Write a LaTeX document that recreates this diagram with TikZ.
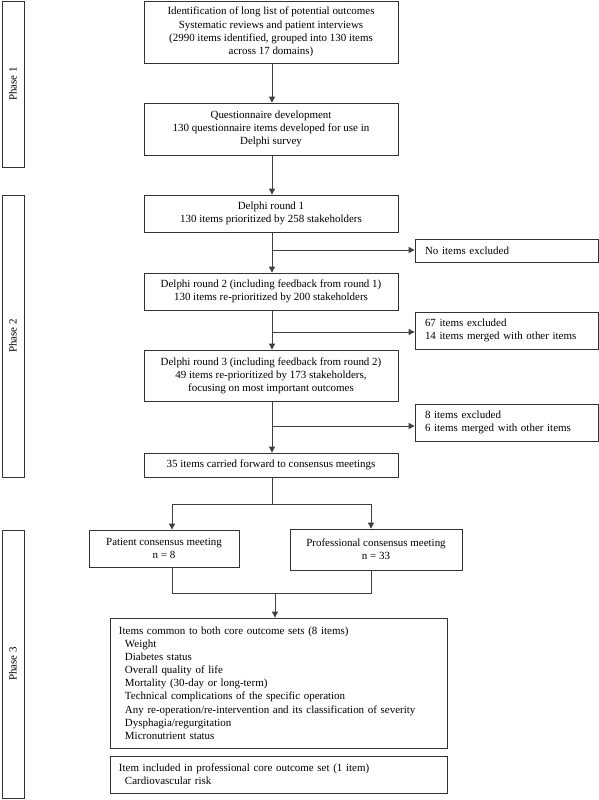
\documentclass[tikz,border=0pt]{standalone}
\usepackage{fontspec}
\setmainfont{Liberation Serif}
\usetikzlibrary{arrows.meta,calc}
\begin{document}
\begin{tikzpicture}[x=1bp,y=-1bp,
  txt/.style={font=\fontsize{11}{13.2}\selectfont},
  box/.style={txt, draw=black!80, line width=0.8bp, inner sep=0pt, align=center},
  lbox/.style={box, align=left, inner xsep=10bp},
  phase/.style={draw=black!80, line width=0.8bp, inner sep=0pt, minimum width=22bp},
  ln/.style={draw=black!75, line width=0.9bp},
  arr/.style={ln, -{Triangle[width=6bp,length=6bp]}}]
\useasboundingbox (0,0) rectangle (599,800);
% phase boxes
\node[phase, minimum height=166bp] (p1) at (13,84) {};
\node[txt, rotate=90] (p1t) at (p1.center) {Phase 1};
\node[phase, minimum height=282bp] (p2) at (13,336) {};
\node[txt, rotate=90] (p2t) at (p2.center) {Phase 2};
\node[phase, minimum height=268bp] (p3) at (13,664) {};
\node[txt, rotate=90] (p3t) at (p3.center) {Phase 3};
% main boxes
\node[box, minimum width=254bp, minimum height=62bp] (b1) at (271,32)
  {Identification of long list of potential outcomes\\Systematic reviews and patient interviews\\(2990 items identified, grouped into 130 items\\across 17 domains)};
\node[box, minimum width=254bp, minimum height=52bp] (b2) at (271,129)
  {Questionnaire development\\130 questionnaire items developed for use in\\Delphi survey};
\node[box, minimum width=254bp, minimum height=37bp] (d1) at (271,213.5)
  {Delphi round 1\\130 items prioritized by 258 stakeholders};
\node[box, minimum width=254bp, minimum height=37bp] (d2) at (271,291.5)
  {Delphi round 2 (including feedback from round 1)\\130 items re-prioritized by 200 stakeholders};
\node[box, minimum width=254bp, minimum height=51bp] (d3) at (271,375.5)
  {Delphi round 3 (including feedback from round 2)\\49 items re-prioritized by 173 stakeholders,\\focusing on most important outcomes};
\node[box, minimum width=254bp, minimum height=24bp] (c35) at (271,465)
  {35 items carried forward to consensus meetings};
% side boxes
\node[lbox, text width=163bp, minimum height=23bp] (e1) at (506.5,250.5) {No items excluded};
\node[lbox, text width=163bp, minimum height=37bp] (e2) at (506.5,330.5) {67 items excluded\\14 items merged with other items};
\node[lbox, text width=163bp, minimum height=37bp] (e3) at (506.5,422.5) {8 items excluded\\6 items merged with other items};
% consensus meetings
\node[box, minimum width=150bp, minimum height=37bp] (pat) at (164,548.5) {Patient consensus meeting\\n = 8};
\node[box, minimum width=172bp, minimum height=41bp] (pro) at (376,549.5) {Professional consensus meeting\\n = 33};
% final boxes
\node[box, align=left, inner xsep=9bp, text width=319bp, minimum height=130bp] (com) at (278.5,683)
  {Items common to both core outcome sets (8 items)\\
   \hspace*{6bp}Weight\\
   \hspace*{6bp}Diabetes status\\
   \hspace*{6bp}Overall quality of life\\
   \hspace*{6bp}Mortality (30-day or long-term)\\
   \hspace*{6bp}Technical complications of the specific operation\\
   \hspace*{6bp}Any re-operation/re-intervention and its classification of severity\\
   \hspace*{6bp}Dysphagia/regurgitation\\
   \hspace*{6bp}Micronutrient status};
\node[box, align=left, inner xsep=9bp, text width=319bp, minimum height=37bp] (inc) at (278.5,774.5)
  {Item included in professional core outcome set (1 item)\\
   \hspace*{6bp}Cardiovascular risk};
% connectors
\coordinate (j1) at (272,250);
\coordinate (j2) at (272,332);
\coordinate (j3) at (272,426);
\draw[arr] (b1.south -| j1) -- (b2.north -| j1);
\draw[arr] (b2.south -| j1) -- (d1.north -| j1);
\draw[arr] (d1.south -| j1) -- (d2.north -| j1);
\draw[arr] (d2.south -| j1) -- (d3.north -| j1);
\draw[arr] (d3.south -| j1) -- (c35.north -| j1);
\draw[arr] (j1) -- (j1 -| e1.west);
\draw[arr] (j2) -- (j2 -| e2.west);
\draw[arr] (j3) -- (j3 -| e3.west);
\coordinate (s0) at (272,504);
\coordinate (sl) at (172,504);
\coordinate (sr) at (371,504);
\draw[ln] (c35.south -| s0) -- (s0);
\draw[ln] (sl) -- (sr);
\draw[arr] (sl) -- (pat.north -| sl);
\draw[arr] (sr) -- (pro.north -| sr);
\coordinate (ml) at (172,593);
\coordinate (mr) at (371,593);
\coordinate (m0) at (275,593);
\draw[ln] (pat.south -| ml) -- (ml) -- (mr) -- (pro.south -| mr);
\draw[arr] (m0) -- (com.north -| m0);
\end{tikzpicture}
\end{document}
